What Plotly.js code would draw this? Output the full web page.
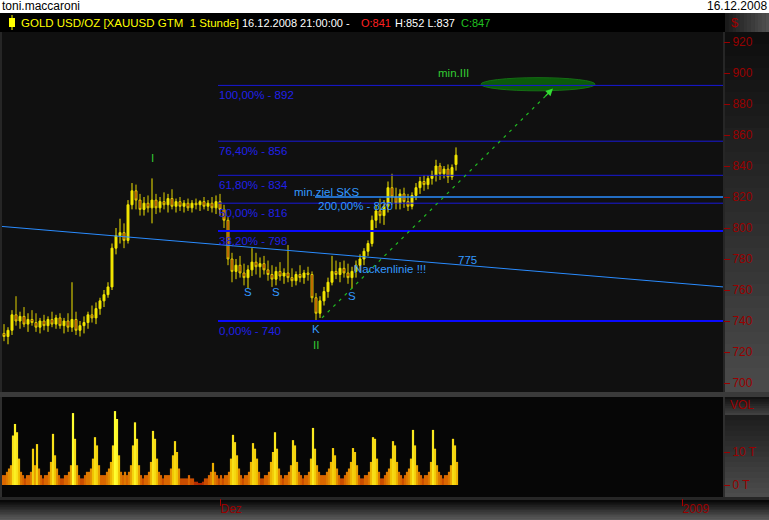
<!DOCTYPE html>
<html><head><meta charset="utf-8">
<script src="https://cdn.plot.ly/plotly-3.0.1.min.js"></script>
<style>html,body{margin:0;padding:0;background:#000;overflow:hidden}#chart{width:769px;height:520px}</style>
</head><body><div id="chart"></div>
<script>
// ---- data (hourly-ish candles aggregated) ----
const openP = [732,730,734,744,740,743,738,741,739,736,
740,737,741,738,742,737,740,736,741,734,
737,739,744,742,748,753,757,762,787,795,
797,792,815,824,818,812,816,813,818,813,
817,815,819,814,817,814,816,813,816,815,
817,814,816,813,817,812,805,780,772,776,
771,768,773,778,775,777,773,770,767,772,
769,771,768,766,770,768,771,770,755,745,
753,759,765,772,770,774,771,768,772,776,
780,785,790,805,811,808,814,826,820,816,
822,817,814,821,826,830,828,832,834,840,
835,838,833,841];
const highP = [738,736,747,756,746,749,745,747,745,742,
744,743,746,744,745,742,745,765,746,740,
743,746,750,752,755,760,765,790,800,806,
803,818,829,828,822,820,821,832,822,820,
823,822,825,819,820,818,819,818,819,818,
820,818,820,821,822,815,807,784,780,782,
777,776,787,784,781,782,779,776,775,778,
774,789,774,772,776,773,775,772,758,756,
762,768,782,779,778,779,777,775,779,783,
787,792,808,815,819,818,830,835,826,825,
826,822,823,829,833,834,834,837,844,842,
840,841,841,852];
const lowP = [727,725,731,737,735,736,733,737,733,732,
734,733,736,735,735,732,733,733,731,730,
732,735,739,738,744,749,755,760,783,790,
787,790,812,812,808,808,810,803,809,810,
812,810,812,810,811,810,811,810,812,811,
812,811,810,809,808,800,776,765,767,768,
763,761,769,770,768,770,766,762,763,766,
764,765,762,763,765,764,766,752,740,742,
750,755,763,767,765,768,764,761,768,772,
776,782,788,800,803,802,810,815,812,812,
813,811,812,818,822,824,825,828,830,831,
832,829,831,837];
const closeP = [730,734,744,740,743,738,741,739,736,740,
737,741,738,742,737,740,736,741,734,737,
739,744,742,748,753,757,762,787,795,797,
792,815,824,818,812,816,813,818,813,817,
815,819,814,817,814,816,813,816,815,817,
814,816,813,817,812,805,780,772,776,771,
768,773,778,775,777,773,770,767,772,769,
771,768,766,770,768,771,770,755,745,753,
759,765,772,770,774,771,768,772,776,780,
785,790,805,811,808,814,826,820,816,822,
817,814,821,826,830,828,832,834,840,835,
838,833,839,847];
// volume in thousands (T), two bars per candle
const volume = [3,3,4,5,6,15,18.5,16,8,4,
3,2,3,3,4,11,6,12.4,5,3,
2,3,3,4,7,15.5,9,5,3,2,
2,3,3,4,6,21.8,14,6,3,2,
2,3,4,4,5,8,14.5,12,6,3,
3,3,4,5,7,12,22.4,20,9,4,
3,4,3,4,6,12,19,14,6,3,
2,3,3,4,7,16.4,14,8,4,3,
2,3,3,3,5,9,13.3,10,5,2,
2,2,2,3,2,2,1,1,0.6,0.6,
1,2,2,3,4,6.7,4,3,2,3,
2,3,3,4,8,15.2,13,9,5,3,
2,3,3,4,7,12.7,11,8,4,2,
2,3,3,4,7,10,16,11,5,3,
2,3,3,4,6,13.6,12,7,4,3,
2,3,3,4,8,17.3,11,6,4,3,
3,3,4,5,7,11.2,9,5,3,2,
2,3,4,5,7,11.2,10,6,3,2,
2,3,3,4,7,14.5,14,8,4,2,
2,3,4,5,8,13.3,12,7,4,3,
2,3,4,5,8,16.7,12,6,4,3,
2,3,3,4,7,16.7,11,6,4,3,
2,3,3,4,6,14,12,7];
const priceTicks = [700,720,740,760,780,800,820,840,860,880,900,920];
const volTicks = [0,10];
const volTickText = ['0 T','10 T'];
const timeTickPos = [54,169.5];
const timeTickText = ['Dez','2009'];
const fibLevels = [892,856,834,816,798,740];
const fibLabels = ['100,00% - 892','76,40% - 856','61,80% - 834','50,00% - 816','38,20% - 798','0,00% - 740'];
const sksLevel = 820;
const necklinePrices = [801,762];
const trendPrices = [742,890];
const targetZone = [888.5,897];

// ---- geometry helpers (layout only) ----
const W = 769, H = 520;
const X = px => px / W;
const Y = py => 1 - py / H;
const U = px => (px - 2) / 4 - 0.5;   // pixel -> candle unit (for placing drawings)

const xIdx = openP.map((_, i) => i);
const volX = volume.map((_, i) => i / 2 - 0.25);

const shapes = [];
function rect(x0, x1, y0, y1, color) {
  shapes.push({type:'rect', xref:'paper', yref:'paper', x0:X(x0), x1:X(x1), y0:Y(y0), y1:Y(y1),
    fillcolor:color, line:{width:0}, layer:'below'});
}
function lerp(c0, c1, t) {
  return 'rgb(' + c0.map((v, k) => Math.round(v + (c1[k] - v) * t)).join(',') + ')';
}
function vgrad(x0, x1, y0, y1, c0, c1, n) {
  for (let k = 0; k < n; k++) {
    const a = y0 + (y1 - y0) * k / n, b = y0 + (y1 - y0) * (k + 1) / n + 0.5;
    rect(x0, x1, a, b, lerp(c0, c1, k / (n - 1)));
  }
}
function hgrad(x0, x1, y0, y1, c0, c1, n) {
  for (let k = 0; k < n; k++) {
    const a = x0 + (x1 - x0) * k / n, b = x0 + (x1 - x0) * (k + 1) / n + 0.5;
    rect(a, b, y0, y1, lerp(c0, c1, k / (n - 1)));
  }
}
// page panels
rect(0, 769, 0, 13, '#ffffff');
hgrad(725, 769, 13, 32, [26,26,26], [80,80,80], 12);
rect(0, 769, 32, 392, '#262626');
rect(2, 723, 32, 392, '#101010');
vgrad(725, 769, 32, 392, [14,14,14], [74,74,74], 30);
rect(0, 769, 392, 397, '#3a3a3a');
rect(0, 769, 397, 498, '#2e2e2e');
rect(2, 723, 397, 497, '#060606');
vgrad(725, 769, 397, 415, [18,18,18], [64,64,64], 8);
vgrad(725, 769, 415, 498, [30,30,30], [76,76,76], 16);
rect(0, 769, 497, 500, '#262626');
vgrad(0, 769, 500, 520, [8,8,8], [90,90,90], 12);
// header candle icon
shapes.push({type:'line', xref:'paper', yref:'paper', x0:X(12), x1:X(12), y0:Y(15), y1:Y(30), line:{color:'#ffff00', width:1}});
rect(9, 15, 18, 27, '#ffff00');

// drawings on price chart
shapes.push({type:'circle', xref:'x', yref:'y', x0:U(481), x1:U(595), y0:targetZone[0], y1:targetZone[1],
  fillcolor:'#0b5a0b', line:{color:'#156e15', width:1}});
fibLevels.forEach((lv, i) => {
  const strong = (lv === 798 || lv === 740);
  shapes.push({type:'line', xref:'x', yref:'y', x0:U(218), x1:U(723), y0:lv, y1:lv,
    line:{color: strong ? '#0a0aff' : '#1818d8', width: strong ? 2 : 1}});
});
shapes.push({type:'line', xref:'x', yref:'y', x0:U(315), x1:U(723), y0:sksLevel, y1:sksLevel,
  line:{color:'#2a8cff', width:1.5}});
shapes.push({type:'line', xref:'x', yref:'y', x0:U(2), x1:U(723), y0:necklinePrices[0], y1:necklinePrices[1],
  line:{color:'#2a8cff', width:1}});
shapes.push({type:'line', xref:'x', yref:'y', x0:U(322), x1:U(550), y0:trendPrices[0], y1:trendPrices[1] - 2,
  line:{color:'#22bb22', width:1.2, dash:'3px,5px'}});

const annotations = [];
function txt(t, px, py, color, anchor, size) {
  annotations.push({text:t, xref:'paper', yref:'paper', x:X(px), y:Y(py), xanchor:anchor || 'left',
    yanchor:'middle', showarrow:false, font:{color:color, size:size || 11.5, family:'Liberation Sans'}});
}
txt('toni.maccaroni', 0, 6, '#000000', 'left', 12);
txt('16.12.2008', 769, 6, '#000000', 'right', 12);
txt('GOLD USD/OZ [XAUUSD GTM  1 Stunde]', 19, 23, '#ffff00');
txt('16.12.2008 21:00:00 -', 240, 23, '#ffffff', 'left', 11);
txt('O:841', 359, 23, '#ff2020', 'left', 11);
txt('H:852 L:837', 393, 23, '#ffffff', 'left', 11);
txt('C:847', 459, 23, '#20c020', 'left', 11);
txt('$', 729, 23, '#a00000', 'left', 13);
txt('VOL', 728, 405, '#990000', 'left', 12);
fibLevels.forEach((lv, i) => {
  annotations.push({text:fibLabels[i], xref:'x', yref:'y', x:U(217), y:lv, yshift:-9.5, xanchor:'left', yanchor:'middle',
    showarrow:false, font:{color:'#2020e8', size:11.5, family:'Liberation Sans'}});
});
txt('min.ziel SKS', 292, 192, '#3399ff');
txt('200,00% - 820', 316, 206, '#3399ff');
txt('Nackenlinie !!!', 352, 269, '#3399ff');
txt('775', 456, 260, '#3399ff');
txt('S', 248, 292, '#3399ff', 'center');
txt('S', 276, 292, '#3399ff', 'center');
txt('S', 352, 296, '#3399ff', 'center');
txt('K', 316, 329, '#3399ff', 'center');
txt('I', 152, 158, '#33cc33', 'center');
txt('II', 316, 345, '#33cc33', 'center');
txt('min.III', 436, 73, '#33cc33');
annotations.push({text:'', xref:'x', yref:'y', x:U(553), y:trendPrices[1], showarrow:true, ax:-9, ay:9,
  arrowhead:2, arrowsize:1.2, arrowwidth:1.2, arrowcolor:'#33dd33'});

const candles = {
  type:'candlestick', x:xIdx, open:openP, high:highP, low:lowP, close:closeP,
  xaxis:'x', yaxis:'y', whiskerwidth:0, hoverinfo:'skip',
  increasing:{line:{color:'#f2e600', width:1}, fillcolor:'#f2e600'},
  decreasing:{line:{color:'#e0d000', width:1}, fillcolor:'#a00000'}
};
const vol = {
  type:'bar', x:volX, y:volume, xaxis:'x', yaxis:'y2', width:0.55, hoverinfo:'skip',
  marker:{color:volume, cmin:0, cmax:22,
    colorscale:[[0,'#a01000'],[0.12,'#d86000'],[0.35,'#f0c000'],[1,'#ffff30']], line:{width:0}}
};

const redFont = {color:'#990000', size:12, family:'Liberation Sans'};
const layout = {
  width:W, height:H, margin:{l:0, r:0, t:0, b:0},
  paper_bgcolor:'#000000', plot_bgcolor:'rgba(0,0,0,0)', showlegend:false,
  font:{family:'Liberation Sans'},
  xaxis:{domain:[X(2), X(723)], range:[-0.5, 179.75], anchor:'y2', showgrid:false, zeroline:false,
    rangeslider:{visible:false}, tickvals:timeTickPos, ticktext:timeTickText, ticks:'outside',
    ticklen:7, tickcolor:'#aa0000', tickfont:redFont, ticklabelposition:'outside right', showline:false},
  yaxis:{domain:[Y(392), Y(32)], range:[694.2, 926.45], side:'right', anchor:'x', showgrid:false,
    zeroline:false, tickvals:priceTicks, ticks:'outside', ticklen:6, tickcolor:'#990000', tickfont:redFont},
  yaxis2:{domain:[Y(498), Y(397)], range:[-3.94, 26.67], side:'right', anchor:'x', showgrid:false,
    zeroline:false, tickvals:volTicks, ticktext:volTickText, ticks:'outside', ticklen:6,
    tickcolor:'#990000', tickfont:redFont},
  shapes:shapes, annotations:annotations
};
Plotly.newPlot('chart', [vol, candles], layout, {staticPlot:true, displayModeBar:false});
</script></body></html>
